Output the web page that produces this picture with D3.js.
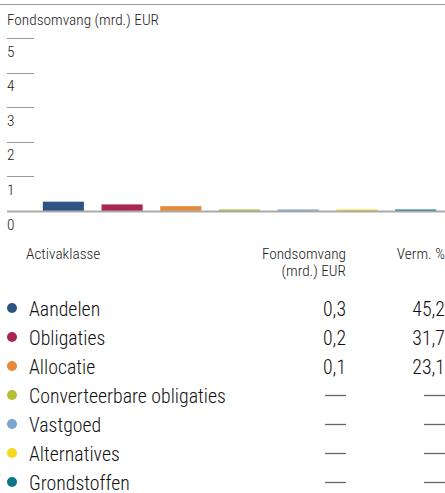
<!DOCTYPE html>
<html>
<head>
<meta charset="utf-8">
<script src="https://cdn.jsdelivr.net/npm/d3@7"></script>
<style>
  body { margin: 0; background: #fff; }
  svg text { font-family: "Liberation Sans Narrow", "Roboto Condensed", "DejaVu Sans Condensed", "Liberation Sans", sans-serif; font-stretch: condensed; font-weight: 300; fill: #222; }
  svg .row text { fill: #111; }
</style>
</head>
<body>
<svg id="chart" width="445" height="493"></svg>
<script>
const categories = ['Aandelen', 'Obligaties', 'Allocatie', 'Converteerbare obligaties', 'Vastgoed', 'Alternatives', 'Grondstoffen'];
const fundSize = [0.27, 0.19, 0.14, 0, 0, 0, 0];
const sizeLabels = ['0,3', '0,2', '0,1', null, null, null, null];
const weightLabels = ['45,2', '31,7', '23,1', null, null, null, null];
const colors = ['#2d5483', '#a8264f', '#e8883a', '#b5bf35', '#7ea3cf', '#f6d91c', '#0b7787'];
const yTicks = [0, 1, 2, 3, 4, 5];

const svg = d3.select('#chart');
const W = 445;

// top rule + title
svg.append('line')
  .attr('x1', 0).attr('x2', W).attr('y1', 4.5).attr('y2', 4.5)
  .attr('stroke', '#999').attr('stroke-width', 1);

svg.append('text')
  .attr('x', 7).attr('y', 25)
  .attr('font-size', 15.3)
  .text('Fondsomvang (mrd.) EUR');

const y = d3.scaleLinear().domain([0, 5]).range([211, 38]);
const x = d3.scaleBand().domain(categories).range([34, 445]).paddingInner(0.3).paddingOuter(0.15);

// short grid lines with label under each
const ticks = svg.append('g').attr('class', 'ticks');
yTicks.filter(t => t > 0).forEach(t => {
  ticks.append('line')
    .attr('x1', 7).attr('x2', 34)
    .attr('y1', Math.round(y(t)) + 0.5).attr('y2', Math.round(y(t)) + 0.5)
    .attr('stroke', '#999');
});
yTicks.forEach(t => {
  ticks.append('text')
    .attr('x', 7).attr('y', y(t) + 18.5)
    .attr('font-size', 15.3)
    .text(t);
});

// bars
svg.append('g').selectAll('rect')
  .data(categories)
  .join('rect')
    .attr('x', d => x(d))
    .attr('width', x.bandwidth())
    .attr('y', (d, i) => Math.min(y(fundSize[i]), y(0) - 1.5))
    .attr('height', (d, i) => Math.max(y(0) - y(fundSize[i]), 1.5))
    .attr('fill', (d, i) => colors[i]);

// baseline
svg.append('line')
  .attr('x1', 7).attr('x2', W).attr('y1', 211.5).attr('y2', 211.5)
  .attr('stroke', '#aaa').attr('stroke-width', 2);

// table header
const head = svg.append('g').attr('font-size', 15.3);
head.append('text').attr('x', 26).attr('y', 259).text('Activaklasse');
head.append('text').attr('x', 346).attr('y', 259).attr('text-anchor', 'end').text('Fondsomvang');
head.append('text').attr('x', 346).attr('y', 276).attr('text-anchor', 'end').text('(mrd.) EUR');
head.append('text').attr('x', 445).attr('y', 259).attr('text-anchor', 'end').text('Verm. %');

// table rows
const rowY = d3.scalePoint().domain(categories).range([308, 482]);
const rows = svg.append('g').selectAll('g')
  .data(categories)
  .join('g')
    .attr('class', 'row')
    .attr('transform', d => `translate(0,${rowY(d)})`);

rows.append('circle')
  .attr('cx', 12).attr('cy', 0).attr('r', 5)
  .attr('fill', (d, i) => colors[i]);
rows.append('text')
  .attr('x', 29).attr('y', 7.5)
  .attr('font-size', 19.8)
  .text(d => d);

// value cells: text when known, a dash rule otherwise
function cell(labels, right) {
  rows.filter((d, i) => labels[i] !== null).append('text')
    .attr('x', right).attr('y', 7.5)
    .attr('font-size', 19.8)
    .attr('text-anchor', 'end')
    .text(d => labels[categories.indexOf(d)]);
  rows.filter((d, i) => labels[i] === null).append('line')
    .attr('x1', right - 21).attr('x2', right)
    .attr('y1', 0.5).attr('y2', 0.5)
    .attr('stroke', '#666').attr('stroke-width', 1.3);
}
cell(sizeLabels, 346);
cell(weightLabels, 445);
</script>
</body>
</html>
